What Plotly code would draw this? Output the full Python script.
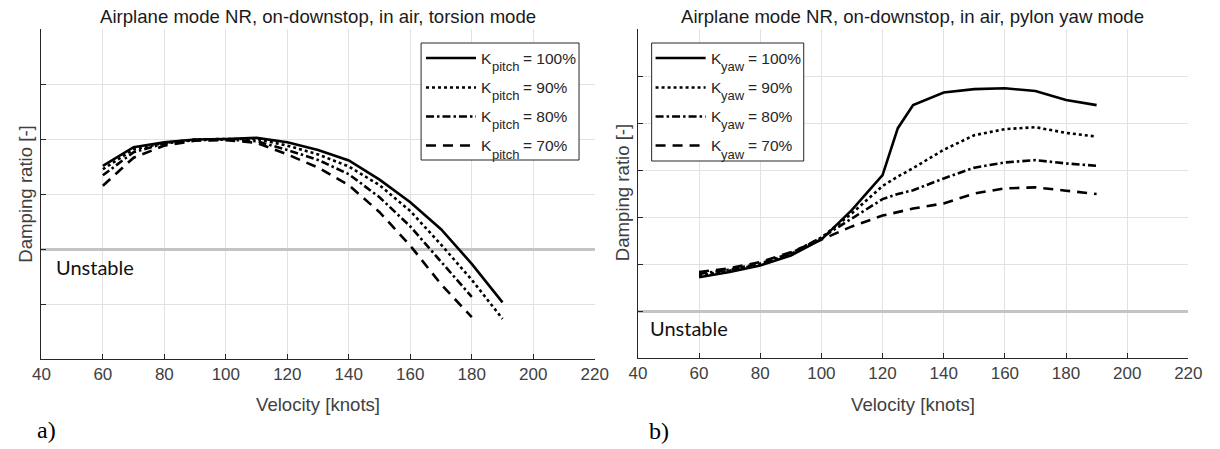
import plotly.graph_objects as go

# ---------------- data ----------------
# Panel a) torsion mode (damping ratio, arbitrary units: one grid step = 1)
vel_a_long = [60, 70, 80, 90, 100, 110, 120, 130, 140, 150, 160, 170, 180, 190]
vel_a_short = [60, 70, 80, 90, 100, 110, 120, 130, 140, 150, 160, 170, 180]
kpitch_100 = [1.51, 1.85, 1.94, 1.99, 2.00, 2.02, 1.94, 1.80, 1.61, 1.26, 0.85, 0.36, -0.27, -0.97]
kpitch_90 = [1.45, 1.81, 1.93, 1.99, 2.00, 2.00, 1.88, 1.72, 1.50, 1.16, 0.69, 0.08, -0.56, -1.27]
kpitch_80 = [1.34, 1.76, 1.92, 1.98, 1.99, 1.96, 1.80, 1.62, 1.36, 0.94, 0.41, -0.22, -0.87]
kpitch_70 = [1.15, 1.66, 1.88, 1.97, 1.98, 1.93, 1.72, 1.48, 1.16, 0.67, 0.06, -0.64, -1.24]

# Panel b) pylon yaw mode
vel_b = [60, 70, 80, 90, 100, 110, 120, 125, 130, 140, 150, 160, 170, 180, 190]
kyaw_100 = [0.72, 0.83, 0.97, 1.18, 1.52, 2.15, 2.89, 3.89, 4.38, 4.65, 4.72, 4.74, 4.68, 4.49, 4.38]
kyaw_90 = [0.76, 0.86, 0.99, 1.21, 1.56, 2.08, 2.66, 2.86, 3.04, 3.43, 3.74, 3.87, 3.91, 3.79, 3.71]
kyaw_80 = [0.79, 0.88, 1.01, 1.23, 1.56, 1.97, 2.38, 2.49, 2.57, 2.82, 3.05, 3.16, 3.21, 3.14, 3.09]
kyaw_70 = [0.83, 0.91, 1.04, 1.25, 1.52, 1.80, 2.03, 2.11, 2.18, 2.29, 2.50, 2.61, 2.63, 2.56, 2.49]

gain_values = ["= 100%", "= 90%", "= 80%", "= 70%"]
pitch_sub = "pitch"
yaw_sub = "yaw"
x_ticks = [40, 60, 80, 100, 120, 140, 160, 180, 200, 220]

# ---------------- styling ----------------
W, H = 1220, 449
DASHES = ["solid", "3px,3px", "8px,3px,2.5px,3px", "10px,7px"]
LW = 2.6
FONT = "Liberation Sans, Arial, sans-serif"
AX = "#262626"
GRID = "#e2e2e2"


def px(x):
    return x / W


def py(y):
    return 1 - y / H


fig = go.Figure()

series_a = [(vel_a_long, kpitch_100), (vel_a_long, kpitch_90),
            (vel_a_short, kpitch_80), (vel_a_short, kpitch_70)]
series_b = [(vel_b, kyaw_100), (vel_b, kyaw_90), (vel_b, kyaw_80), (vel_b, kyaw_70)]

for i, (xv, yv) in enumerate(series_a):
    fig.add_trace(go.Scatter(x=xv, y=yv, mode="lines", name="K_pitch " + gain_values[i],
                             line=dict(color="black", width=LW, dash=DASHES[i]),
                             xaxis="x", yaxis="y", showlegend=False))
for i, (xv, yv) in enumerate(series_b):
    fig.add_trace(go.Scatter(x=xv, y=yv, mode="lines", name="K_yaw " + gain_values[i],
                             line=dict(color="black", width=LW, dash=DASHES[i]),
                             xaxis="x2", yaxis="y2", showlegend=False))

xcommon = dict(range=[40, 220], tickvals=x_ticks, showgrid=True, gridcolor=GRID,
               gridwidth=1, showline=True, linecolor=AX, linewidth=1, mirror=False,
               ticks="inside", ticklen=5, tickcolor=AX, zeroline=False,
               tickfont=dict(family=FONT, size=17, color="#404040"))
ycommon = dict(dtick=1, showgrid=True, gridcolor=GRID, gridwidth=1, showline=True,
               linecolor=AX, linewidth=1, mirror=False, ticks="inside", ticklen=5,
               tickcolor=AX, showticklabels=False, zeroline=True,
               zerolinecolor="#c4c4c4", zerolinewidth=2.5)

fig.update_layout(
    width=W, height=H, margin=dict(l=0, r=0, t=0, b=0),
    paper_bgcolor="white", plot_bgcolor="white",
    xaxis=dict(domain=[px(33), px(597)], anchor="y", **xcommon),
    yaxis=dict(domain=[py(359), py(29)], anchor="x", range=[-2, 4], tick0=-2, **ycommon),
    xaxis2=dict(domain=[px(641), px(1202)], anchor="y2", **xcommon),
    yaxis2=dict(domain=[py(358), py(29)], anchor="x2", range=[-1, 6], tick0=-1, **ycommon),
)

ann = []
shapes = []


def text(x, y, s, size, color="#404040", family=FONT, angle=0, xanchor="center"):
    ann.append(dict(x=px(x), y=py(y), xref="paper", yref="paper", text=s,
                    showarrow=False, xanchor=xanchor, yanchor="middle",
                    textangle=angle, font=dict(family=family, size=size, color=color)))


# titles
text(315, 16, "Airplane mode NR, on-downstop, in air, torsion mode", 18.6, "#1a1a1a")
text(921, 16, "Airplane mode NR, on-downstop, in air, pylon yaw mode", 18.6, "#1a1a1a")
# axis titles
text(315, 404, "Velocity [knots]", 18.6)
text(921, 404, "Velocity [knots]", 18.6)
text(16, 194, "Damping ratio [-]", 18.6, angle=-90)
text(625, 193, "Damping ratio [-]", 18.6, angle=-90)
# Unstable labels
text(46, 267, "Unstable", 20, "#111111", "Lato, Open Sans, sans-serif", xanchor="left")
text(651, 328, "Unstable", 20, "#111111", "Lato, Open Sans, sans-serif", xanchor="left")
# panel labels
text(26, 430, "a)", 24, "#000000", "Liberation Serif, Times New Roman, serif", xanchor="left")
text(650, 431, "b)", 24, "#000000", "Liberation Serif, Times New Roman, serif", xanchor="left")


def legend(x0, x1, y0, y1, sx0, sx1, kx, subx, eqx, sub):
    shapes.append(dict(type="rect", xref="paper", yref="paper", x0=px(x0), x1=px(x1),
                       y0=py(y1), y1=py(y0), line=dict(color=AX, width=1),
                       fillcolor="white", layer="above"))
    ys = [58, 87.5, 116.5, 145.5]
    for i, val in enumerate(gain_values):
        shapes.append(dict(type="line", xref="paper", yref="paper", x0=px(sx0), x1=px(sx1),
                           y0=py(ys[i]), y1=py(ys[i]),
                           line=dict(color="black", width=LW, dash=DASHES[i]), layer="above"))
        text(kx, ys[i], "K", 15.5, "#262626", xanchor="left")
        text(subx, ys[i] + 8.5, sub, 13, "#262626", xanchor="left")
        text(eqx, ys[i], val, 15.5, "#262626", xanchor="left")


legend(420, 581, 43, 160, 425, 476, 479, 490, 521.5, pitch_sub)
legend(655, 810, 43, 161, 659, 710, 713, 724, 751.5, yaw_sub)

fig.update_layout(annotations=ann, shapes=shapes)
fig.write_html(
    "out.html",
    config={"displayModeBar": False},
    post_script="document.body.style.margin='0';document.body.style.padding='0';"
                "document.documentElement.style.overflow='hidden';"
                "document.body.style.overflow='hidden';",
)
